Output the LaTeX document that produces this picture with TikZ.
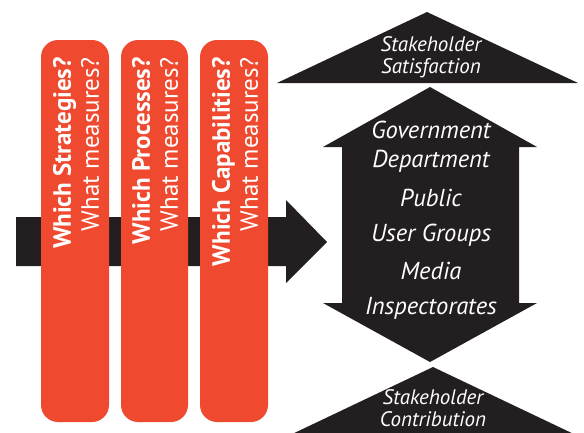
\documentclass[tikz,border=0pt]{standalone}
\usepackage{fontspec}
\setmainfont{PT Sans}
\definecolor{barred}{RGB}{239,74,48}
\definecolor{inkblack}{RGB}{35,31,32}
\tikzset{
  bar/.style={fill=barred, rounded corners=17pt},
  bartext/.style={text=white, rotate=90, anchor=east, align=right, inner sep=0pt,
    font=\fontsize{25}{28}\selectfont},
  party/.style={text=white, align=center, inner sep=0pt,
    font=\itshape\fontsize{24.5}{29}\selectfont},
  stake/.style={party, font=\itshape\fontsize{21}{22}\selectfont}
}
\begin{document}
\begin{tikzpicture}[x=1pt,y=-1pt]
      \useasboundingbox (0,0) rectangle (584,432);
      \clip (0,0) rectangle (584,432);
      % flow arrow behind the bars
      \fill[inkblack] (16,217) -- (286,217) -- (286,200) -- (327,242)
        -- (286,283) -- (286,266) -- (16,266) -- cycle;
      % stakeholder shapes
      \fill[inkblack] (427,12) -- (578,83) -- (277,83) -- cycle;
      \fill[inkblack] (430,87) -- (537,147) -- (519,147) -- (519,303)
        -- (537,303) -- (430,362) -- (323,303) -- (342,303)
        -- (342,147) -- (323,147) -- cycle;
      \fill[inkblack] (433,367) -- (578,436) -- (288,436) -- cycle;
      % question bars
      \fill[bar] (41,40) rectangle (109,422);
      \fill[bar] (121,40) rectangle (188,422);
      \fill[bar] (200,40) rectangle (268,422);
      \draw
        (76,57) node[bartext] (strat){\textbf{Which Strategies?}\\What measures?}
        (155,57) node[bartext] (proc){\textbf{Which Processes?}\\What measures?}
        (235,57) node[bartext] (capab){\textbf{Which Capabilities?}\\What measures?};
      \draw
        (431,57) node[stake] (satis){Stakeholder\\Satisfaction}
        (431,147) node[party] (govt){Government\\Department}
        (431,198) node[party] (public){Public}
        (431,235) node[party] (users){User Groups}
        (431,271) node[party] (media){Media}
        (431,308) node[party] (insp){Inspectorates}
        (433,408) node[stake] (contrib){Stakeholder\\Contribution};
    \end{tikzpicture}
\end{document}
